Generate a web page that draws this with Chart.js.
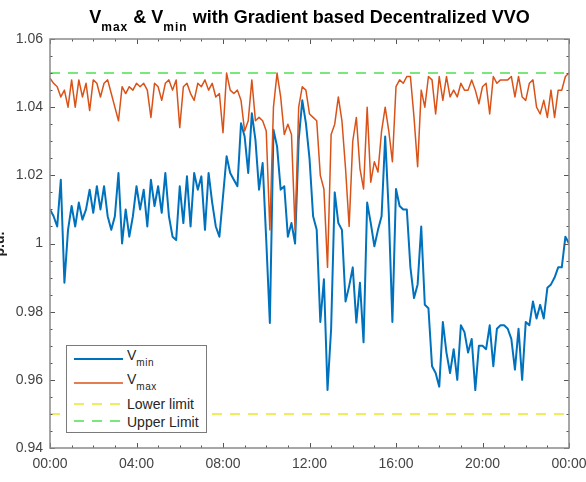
<!DOCTYPE html>
<html>
<head>
<meta charset="utf-8">
<script src="https://cdn.jsdelivr.net/npm/chart.js@4.4.0/dist/chart.umd.min.js"></script>
<style>
html,body{margin:0;padding:0;background:#fff;}
#wrap{position:relative;width:586px;height:482px;overflow:hidden;font-family:"Liberation Sans",Arial,Helvetica,sans-serif;}
#chart{position:absolute;left:0;top:0;}
#title{position:absolute;left:0;width:619px;top:8px;text-align:center;font-weight:bold;font-size:18px;line-height:18px;color:#000;white-space:nowrap;}
#title .sub{font-size:12px;position:relative;top:8px;letter-spacing:1px;}
#ylab{position:absolute;left:-21px;top:236px;width:40px;height:16px;line-height:16px;text-align:center;font-weight:bold;font-size:14px;color:#222;transform:rotate(-90deg);}
#legend{position:absolute;left:66px;top:345px;width:139px;height:86px;border:1px solid #7a7a7a;background:#fff;color:#262626;}
#legend svg{position:absolute;left:0;top:0;}
#legend .t{position:absolute;left:60px;font-size:14px;line-height:14px;white-space:nowrap;}
#legend .t .sub{font-size:10px;position:relative;top:6px;letter-spacing:0.5px;}
</style>
</head>
<body>
<div id="wrap">
  <canvas id="chart" width="586" height="482"></canvas>
  <div id="title">V<span class="sub">max</span> &amp; V<span class="sub">min</span> with Gradient based Decentralized VVO</div>
  <div id="ylab">p.u.</div>
  <div id="legend">
    <svg width="139" height="86">
      <line x1="7" y1="13" x2="56" y2="13" stroke="#0072BD" stroke-width="2"/>
      <line x1="7" y1="37" x2="56" y2="37" stroke="#D95319" stroke-width="1.5"/>
      <line x1="7" y1="58" x2="56" y2="58" stroke="#E8E82A" stroke-width="1.5" stroke-dasharray="10 8"/>
      <line x1="7" y1="75" x2="56" y2="75" stroke="#4FE04F" stroke-width="1.5" stroke-dasharray="10 8"/>
    </svg>
    <div class="t" style="top:2px">V<span class="sub">min</span></div>
    <div class="t" style="top:26px">V<span class="sub">max</span></div>
    <div class="t" style="top:51px">Lower limit</div>
    <div class="t" style="top:69px">Upper Limit</div>
  </div>
</div>
<script>
// ---- data (10-minute samples, 00:00 .. 24:00) ----
const stepMinutes = 10;
const vMin = [
1.010,1.008,1.005,1.0187,0.9885,1.004,1.011,1.005,1.012,1.007,
1.010,1.0158,1.009,1.0168,1.010,1.0168,1.008,1.004,1.008,1.0207,
1.000,1.010,1.002,1.008,1.0168,1.010,1.0158,1.005,1.0187,1.011,
1.0168,1.009,1.0207,1.008,1.002,1.001,1.0168,1.006,1.0197,1.005,
1.0207,1.0158,1.0197,1.004,1.0207,1.012,1.005,1.002,1.0138,1.0256,
1.0207,1.0187,1.0168,1.0353,1.0314,1.0207,1.0382,1.0304,1.0158,1.0236,
1.001,0.9767,1.0334,1.0285,1.0158,1.0168,1.002,1.006,1.000,1.0304,
1.042,1.0353,1.025,1.008,1.004,0.977,0.9895,0.957,0.975,1.015,
1.006,1.004,0.983,0.9875,0.993,0.9768,0.9885,0.971,1.012,1.006,
0.9992,1.004,1.008,1.0314,1.009,0.977,1.016,1.011,1.010,1.010,
0.993,0.984,0.988,1.005,0.982,0.981,0.964,0.962,0.958,0.977,
0.968,0.962,0.969,0.960,0.976,0.974,0.968,0.972,0.957,0.970,
0.970,0.969,0.976,0.964,0.975,0.976,0.976,0.975,0.972,0.963,
0.975,0.960,0.977,0.976,0.983,0.978,0.982,0.978,0.987,0.988,
0.990,0.993,0.993,1.002,1.000
];
const vMax = [
1.0485,1.047,1.046,1.043,1.045,1.040,1.048,1.040,1.048,1.043,
1.047,1.039,1.048,1.047,1.043,1.047,1.048,1.044,1.040,1.036,
1.046,1.044,1.046,1.045,1.047,1.046,1.047,1.045,1.037,1.047,
1.046,1.042,1.047,1.048,1.045,1.048,1.034,1.046,1.047,1.044,
1.042,1.047,1.046,1.048,1.045,1.047,1.043,1.044,1.0325,1.050,
1.045,1.044,1.045,1.042,1.033,1.036,1.048,1.036,1.037,1.036,
1.033,1.004,1.040,1.050,1.043,1.032,1.035,1.032,1.004,1.040,
1.046,1.045,1.038,1.037,1.036,1.020,1.016,0.993,1.032,1.035,
1.043,1.036,1.022,1.005,1.030,1.037,1.022,1.016,1.040,1.018,
1.024,1.021,1.033,1.040,1.033,1.024,1.046,1.048,1.047,1.049,
1.049,1.037,1.0225,1.045,1.040,1.049,1.048,1.038,1.049,1.042,
1.049,1.043,1.045,1.043,1.047,1.045,1.045,1.048,1.045,1.041,
1.046,1.047,1.038,1.049,1.047,1.048,1.048,1.048,1.049,1.043,
1.049,1.043,1.042,1.047,1.048,1.040,1.038,1.042,1.037,1.045,
1.037,1.045,1.045,1.049,1.050
];
const limits = [0.95, 1.05];          // lower, upper
const seriesNames = ['Vmin', 'Vmax', 'Lower limit', 'Upper Limit'];
const xTicks = [0, 240, 480, 720, 960, 1200, 1440];
const xTickLabels = ['00:00', '04:00', '08:00', '12:00', '16:00', '20:00', '00:00'];
const yTicks = [0.94, 0.96, 0.98, 1.00, 1.02, 1.04, 1.06];
const yTickLabels = ['0.94', '0.96', '0.98', '1', '1.02', '1.04', '1.06'];
const xMinorStep = 60;
const yMinorStep = 0.005;

const toXY = arr => arr.map((v, i) => ({x: i * stepMinutes, y: v}));
const span = [0, stepMinutes * (vMin.length - 1)];

const framePlugin = {
  id: 'frame',
  afterDatasetsDraw(chart) {
    const {ctx, chartArea: a, scales: {x, y}} = chart;
    ctx.save();
    ctx.strokeStyle = '#555';
    ctx.lineWidth = 1;
    for (let m = span[0]; m <= span[1]; m += xMinorStep) {
      const px = Math.round(x.getPixelForValue(m)) + 0.5;
      const len = (m % 240 === 0) ? 5 : 2.5;
      ctx.beginPath();
      ctx.moveTo(px, a.bottom); ctx.lineTo(px, a.bottom - len);
      ctx.moveTo(px, a.top); ctx.lineTo(px, a.top + len);
      ctx.stroke();
    }
    const n = Math.round((yTicks[yTicks.length - 1] - yTicks[0]) / yMinorStep);
    for (let k = 0; k <= n; k++) {
      const v = yTicks[0] + k * yMinorStep;
      const py = Math.round(y.getPixelForValue(v)) + 0.5;
      const len = (k % 4 === 0) ? 5 : 2.5;
      ctx.beginPath();
      ctx.moveTo(a.left, py); ctx.lineTo(a.left + len, py);
      ctx.moveTo(a.right, py); ctx.lineTo(a.right - len, py);
      ctx.stroke();
    }
    ctx.strokeStyle = '#8a8a8a';
    ctx.lineWidth = 1.5;
    ctx.strokeRect(a.left, a.top, a.right - a.left, a.bottom - a.top);
    ctx.restore();
  }
};

const tickFont = {family: '"Liberation Sans", Arial, sans-serif', size: 14};

new Chart(document.getElementById('chart'), {
  type: 'line',
  data: {
    datasets: [
      {label: seriesNames[0], data: toXY(vMin), borderColor: '#0072BD', borderWidth: 2, order: 4},
      {label: seriesNames[1], data: toXY(vMax), borderColor: '#D95319', borderWidth: 1.5, order: 3},
      {label: seriesNames[2], data: span.map(t => ({x: t, y: limits[0]})), borderColor: '#E8E82A', borderWidth: 1.5, borderDash: [10, 8], order: 2},
      {label: seriesNames[3], data: span.map(t => ({x: t, y: limits[1]})), borderColor: '#4FE04F', borderWidth: 1.5, borderDash: [10, 8], order: 1}
    ]
  },
  options: {
    responsive: false,
    animation: false,
    devicePixelRatio: 1,
    elements: {point: {radius: 0}, line: {tension: 0, borderJoinStyle: 'round', fill: false}},
    layout: {padding: {top: 39, right: 17, left: 0, bottom: 0}},
    plugins: {legend: {display: false}, title: {display: false}, tooltip: {enabled: false}},
    scales: {
      x: {
        type: 'linear', min: span[0], max: span[1],
        grid: {display: false, drawTicks: false}, border: {display: false},
        afterBuildTicks: s => { s.ticks = xTicks.map(v => ({value: v})); },
        afterFit: s => { s.height = 34; s.paddingLeft = 0; s.paddingRight = 0; },
        ticks: {
          autoSkip: false, maxRotation: 0, padding: 8, color: '#444', font: tickFont,
          callback: (v) => xTickLabels[xTicks.indexOf(v)]
        }
      },
      y: {
        type: 'linear', min: yTicks[0], max: yTicks[yTicks.length - 1],
        grid: {display: false, drawTicks: false}, border: {display: false},
        afterBuildTicks: s => { s.ticks = yTicks.map(v => ({value: v})); },
        afterFit: s => { s.width = 50; s.paddingTop = 0; s.paddingBottom = 0; },
        ticks: {
          autoSkip: false, padding: 7, color: '#444', font: tickFont,
          callback: (v) => yTickLabels[yTicks.findIndex(t => Math.abs(t - v) < 1e-9)]
        }
      }
    }
  },
  plugins: [framePlugin]
});
</script>
</body>
</html>
